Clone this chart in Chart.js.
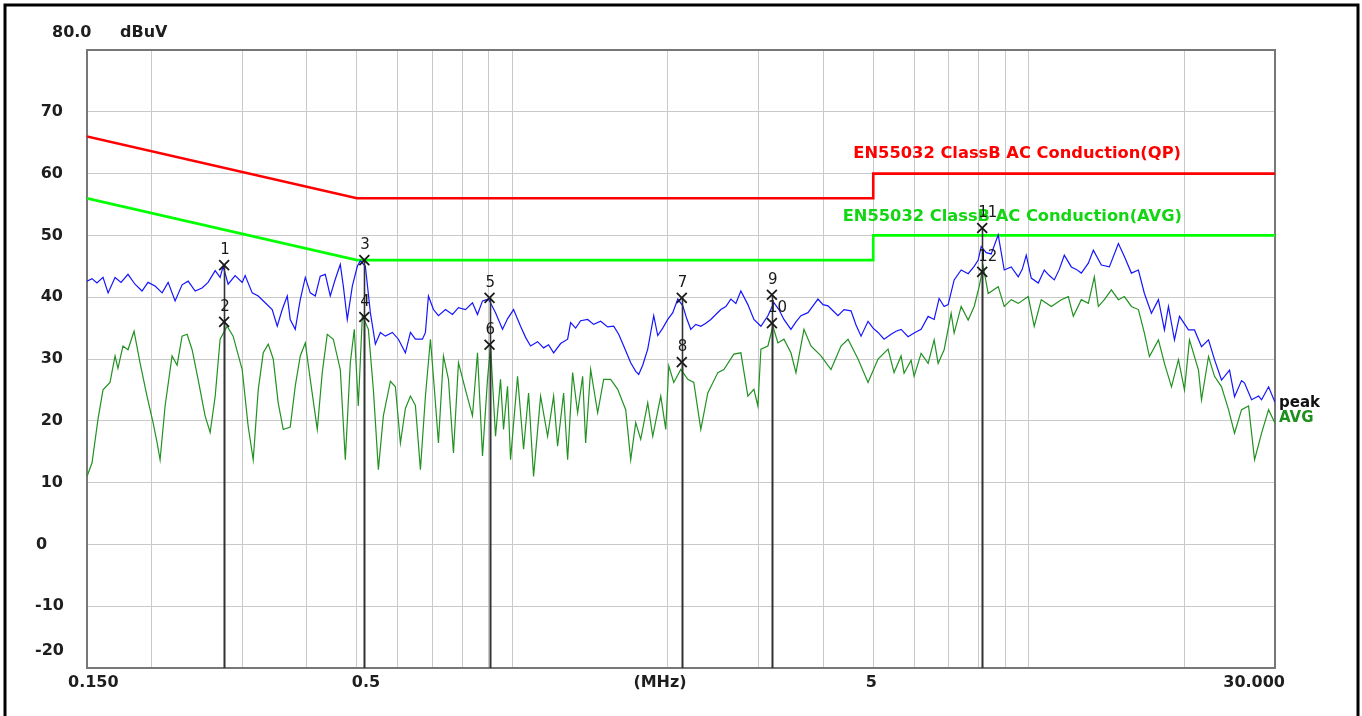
<!DOCTYPE html>
<html>
<head>
<meta charset="utf-8">
<script src="https://cdn.jsdelivr.net/npm/chart.js@4.4.1/dist/chart.umd.min.js"></script>
<style>
html,body{margin:0;padding:0;background:#fff;}
canvas{display:block;}
</style>
</head>
<body>
<canvas id="c" width="1362" height="716"></canvas>
<script>
// ---------- data ----------
const peakFreq = [
0.150,0.1534,0.1568,0.1611,0.1648,0.1700,0.1746,0.1801,0.1858,0.1917,
0.1969,0.2032,0.2097,0.2154,0.2222,0.2292,0.2355,0.2430,0.2506,0.2574,
0.2657,0.2716,0.2753,0.2815,0.2904,0.2997,0.3037,0.3134,0.3219,0.3321,
0.3426,0.3504,0.3583,0.3664,0.3713,0.3797,0.3883,0.3971,0.4060,0.4152,
0.4245,0.4341,0.4439,0.4539,0.4642,0.4705,0.4789,0.4898,0.5008,0.5076,
0.5191,0.5308,0.5428,0.5550,0.5675,0.5856,0.6015,0.6206,0.6346,0.6489,
0.6696,0.6786,0.6877,0.7033,0.7191,0.7420,0.7655,0.7863,0.8113,0.8370,
0.8559,0.8753,0.8990,0.9276,0.9570,0.9786,1.0053,1.0372,1.0606,1.0845,
1.1189,1.1494,1.1753,1.2019,1.2400,1.2794,1.2966,1.3259,1.3559,1.3989,
1.4369,1.4826,1.5297,1.5712,1.6067,1.6430,1.6951,1.7334,1.7567,1.7884,
1.8288,1.8785,1.9123,1.9556,1.9997,2.0449,2.0910,2.1383,2.1768,2.2160,
2.2660,2.3173,2.3696,2.4231,2.4778,2.5338,2.5910,2.6495,2.7093,2.7705,
2.8584,2.9362,3.0294,3.1256,3.2104,3.2829,3.3571,3.4637,3.5419,3.6219,
3.7369,3.8213,3.9075,3.9958,4.0860,4.1783,4.2726,4.3887,4.5281,4.6303,
4.7349,4.8852,4.9955,5.1082,5.2471,5.4137,5.5359,5.6610,5.8407,5.9993,
6.1899,6.3864,6.5598,6.7079,6.8594,6.9830,7.1727,7.4006,7.6355,7.8428,
7.9841,8.0920,8.2746,8.4615,8.7301,8.9673,9.2521,9.5458,9.7179,9.8931,
10.116,10.437,10.722,10.964,11.211,11.464,11.723,12.095,12.368,12.648,
13.049,13.344,13.829,14.332,14.920,15.325,15.812,16.314,16.757,17.289,
17.838,18.323,18.653,19.160,19.592,20.395,20.950,21.615,22.301,22.907,
23.635,24.494,25.047,25.843,26.191,27.024,27.882,28.258,29.155,30.0
];
const peakLevel = [
42.6,43.0,42.3,43.2,40.7,43.2,42.4,43.7,42.1,41.0,
42.4,41.8,40.7,42.4,39.4,42.0,42.6,41.0,41.5,42.4,
44.3,43.2,45.0,42.1,43.5,42.4,43.5,40.7,40.2,39.1,
38.0,35.3,38.0,40.2,36.4,34.8,39.6,43.2,40.7,40.2,
43.4,43.7,40.2,42.9,45.3,41.8,36.4,41.8,45.0,45.9,
45.0,37.5,32.4,34.3,33.7,34.3,33.2,31.0,34.3,33.2,
33.2,34.3,40.2,38.0,37.0,38.0,37.2,38.3,38.0,39.1,
37.2,39.4,39.7,37.5,34.8,36.5,38.0,35.3,33.5,32.1,
32.8,31.8,32.3,31.0,32.5,33.2,35.9,35.0,36.2,36.4,
35.6,36.1,35.2,35.3,34.0,32.1,29.4,28.0,27.5,29.0,
31.6,37.0,33.8,35.0,36.4,37.5,39.7,38.6,36.5,34.8,
35.6,35.3,35.8,36.4,37.2,38.0,38.5,39.7,39.0,41.0,
38.8,36.4,35.3,37.0,39.1,38.0,36.4,34.8,36.0,37.0,
37.5,38.6,39.7,38.8,38.6,37.8,37.0,38.0,37.8,35.5,
33.7,36.1,35.0,34.3,33.2,34.0,34.5,34.8,33.6,34.2,
34.8,36.9,36.4,39.8,38.5,38.8,42.8,44.4,43.8,45.0,
46.0,48.2,47.2,47.0,50.1,44.4,44.9,43.3,44.5,46.8,
43.1,42.3,44.4,43.5,42.8,44.5,46.8,44.9,44.5,43.9,
45.5,47.6,45.2,44.9,48.7,46.6,43.9,44.4,40.6,37.4,
39.6,34.7,38.5,33.1,36.9,34.7,34.7,32.0,33.1,29.9,
26.6,28.2,23.9,26.5,26.1,23.4,24.0,23.4,25.5,23.0
];
const avgFreq = [
0.150,0.1534,0.1575,0.1611,0.1662,0.1700,0.1722,0.1761,0.1801,0.1850,
0.1900,0.1960,0.2014,0.2050,0.2078,0.2125,0.2192,0.2242,0.2292,0.2344,
0.2397,0.2462,0.2540,0.2598,0.2657,0.2716,0.2802,0.2878,0.2997,0.3078,
0.3148,0.3219,0.3292,0.3366,0.3442,0.3519,0.3599,0.3713,0.3797,0.3883,
0.3971,0.4060,0.4189,0.4283,0.4380,0.4499,0.4642,0.4747,0.4854,0.4941,
0.5030,0.5122,0.5261,0.5380,0.5501,0.5625,0.5804,0.5935,0.6069,0.6206,
0.6346,0.6489,0.6636,0.6786,0.6939,0.7064,0.7191,0.7354,0.7520,0.7689,
0.7863,0.8113,0.8370,0.8559,0.8753,0.8950,0.9071,0.9276,0.9485,0.9613,
0.9786,0.9919,1.0234,1.0512,1.0749,1.0991,1.1341,1.1701,1.2019,1.2235,
1.2567,1.2794,1.3082,1.3378,1.3681,1.3865,1.4178,1.4628,1.5026,1.5503,
1.5995,1.6577,1.6951,1.7334,1.7725,1.8288,1.8701,1.9382,1.9819,2.0087,
2.0540,2.1193,2.1866,2.2459,2.3173,2.3908,2.5000,2.5680,2.6852,2.7705,
2.8584,2.9362,2.9890,3.0294,3.1256,3.1961,3.2682,3.3571,3.4637,3.5419,
3.6707,3.7873,3.9603,4.1412,4.3303,4.4677,4.6718,4.8852,5.1082,5.3416,
5.4867,5.6610,5.7373,5.9195,5.9993,6.1899,6.3864,6.5598,6.6780,6.8594,
7.0773,7.1727,7.4006,7.6355,7.8428,8.0199,8.1646,8.3488,8.7301,8.9673,
9.2521,9.5458,9.9818,10.252,10.579,11.062,11.567,11.934,12.203,12.648,
13.049,13.403,13.645,14.015,14.461,14.920,15.325,15.812,16.314,16.757,
17.135,17.838,18.323,18.905,19.505,20.034,20.487,21.327,21.615,22.301,
22.907,23.635,24.385,25.047,25.843,26.663,27.388,28.258,29.155,30.0
];
const avgLevel = [
11.0,13.2,20.2,25.0,26.2,30.5,28.5,32.1,31.5,34.5,
29.4,24.0,19.7,16.5,13.7,22.4,30.5,29.0,33.7,34.0,
31.5,26.7,20.8,18.1,24.0,33.2,35.3,33.7,28.3,19.1,
13.7,25.0,31.0,32.4,30.0,22.9,18.6,19.0,25.6,30.5,
32.6,26.7,18.6,27.8,34.0,33.2,28.3,13.7,29.4,34.8,
22.4,37.0,34.8,25.0,12.1,20.8,26.4,25.5,16.4,22.0,
24.0,22.5,12.1,24.0,33.2,25.0,16.4,30.5,26.7,14.8,
29.4,25.0,20.8,31.0,14.3,26.7,32.1,17.5,26.7,18.6,
25.6,13.7,27.2,15.4,24.5,11.0,24.0,17.5,24.0,15.9,
24.5,13.7,27.8,21.3,27.2,16.4,28.3,21.3,26.7,26.7,
25.1,21.8,13.7,19.7,17.0,22.9,17.5,24.0,18.6,28.9,
26.2,28.3,26.7,26.2,18.6,24.5,27.8,28.3,30.8,31.0,
24.0,25.1,22.4,31.6,32.1,35.3,32.6,33.2,31.0,27.8,
34.8,32.1,30.5,28.3,32.1,33.2,30.0,26.2,30.0,31.6,
27.8,30.5,27.7,29.8,27.2,30.9,29.3,33.1,29.3,31.5,
37.4,34.2,38.5,36.3,38.5,41.7,45.0,40.6,41.7,38.5,
39.6,39.0,40.1,35.3,39.6,38.5,39.6,40.1,36.9,39.6,
39.0,43.3,38.5,39.6,41.2,39.6,40.1,38.5,38.0,34.2,
30.4,33.1,29.3,25.5,29.9,25.0,33.1,28.2,23.4,30.4,
27.2,25.5,21.8,18.0,21.8,22.4,13.7,18.0,21.8,19.6
];
const qpLimitFreq = [0.15, 0.5, 5, 5, 30];
const qpLimitLevel = [66, 56, 56, 60, 60];
const avgLimitFreq = [0.15, 0.5, 5, 5, 30];
const avgLimitLevel = [56, 46, 46, 50, 50];

const markerNo = ['1','2','3','4','5','6','7','8','9','10','11','12'];
const markerFreq = [0.2765,0.2765,0.5167,0.5167,0.9031,0.9031,2.1288,2.1288,3.1819,3.1819,8.1282,8.1282];
const markerLevel = [45.2,36.0,46.0,36.8,39.9,32.3,39.9,29.5,40.4,35.8,51.2,44.1];

const xGridValues = [0.15,0.2,0.3,0.4,0.5,0.6,0.7,0.8,0.9,1,2,3,4,5,6,7,8,9,10,20,30];
const xTickValues = [0.15, 0.5, 5, 30];
const xTickLabels = ['0.150', '0.5', '5', '30.000'];
const yTickValues = [80,70,60,50,40,30,20,10,0,-10,-20];
const yTickLabels = ['80.0','70','60','50','40','30','20','10','0','-10','-20'];
const yUnit = 'dBuV';
const xUnit = '(MHz)';
const qpLimitName = 'EN55032 ClassB AC Conduction(QP)';
const avgLimitName = 'EN55032 ClassB AC Conduction(AVG)';
const peakName = 'peak';
const avgName = 'AVG';

// ---------- helpers ----------
const pts = (fx, fy) => fx.map((f, i) => ({x: f, y: fy[i]}));
const AX_FONT = 'bold 16px "DejaVu Sans"';
const TXT = '#1e1e1e';

const overlay = {
  id: 'overlay',
  beforeDatasetsDraw(chart) {
    const {ctx, chartArea: a} = chart;
    ctx.save();
    ctx.strokeStyle = '#777';
    ctx.lineWidth = 2;
    ctx.strokeRect(a.left, a.top, a.right - a.left, a.bottom - a.top);
    ctx.restore();
  },
  beforeDatasetDraw(chart, args) {
    if (args.index !== 0) return;
    const {ctx, chartArea: a, scales: {x, y}} = chart;
    ctx.save();
    ctx.strokeStyle = '#333';
    ctx.lineWidth = 1.6;
    markerFreq.forEach((f, i) => {
      const px = Math.round(x.getPixelForValue(f)) + 0.5;
      const py = y.getPixelForValue(markerLevel[i]);
      ctx.beginPath();
      ctx.moveTo(px, py);
      ctx.lineTo(px, a.bottom);
      ctx.stroke();
    });
    ctx.restore();
  },
  afterDraw(chart) {
    const {ctx, chartArea: a, scales: {x, y}} = chart;
    ctx.save();
    // y labels
    ctx.font = AX_FONT;
    ctx.fillStyle = TXT;
    ctx.textBaseline = 'middle';
    yTickValues.forEach((v, i) => {
      const lab = yTickLabels[i];
      let py = y.getPixelForValue(v);
      if (v === 80 || v === -20) py -= 17;
      if (lab === '80.0') { ctx.textAlign = 'left'; ctx.fillText(lab, 52, py); }
      else if (v <= 0) { ctx.textAlign = 'left'; ctx.fillText(lab, v === 0 ? 36 : 35, py); }
      else { ctx.textAlign = 'right'; ctx.fillText(lab, 63, py); }
    });
    ctx.textAlign = 'left';
    ctx.fillText(yUnit, 120, y.getPixelForValue(80) - 17);
    // x labels
    const ly = a.bottom + 15;
    xTickValues.forEach((v, i) => {
      const px = x.getPixelForValue(v);
      const lab = xTickLabels[i];
      if (i === 0) { ctx.textAlign = 'left'; ctx.fillText(lab, px - 19, ly); }
      else if (i === xTickValues.length - 1) { ctx.textAlign = 'right'; ctx.fillText(lab, px + 10, ly); }
      else { ctx.textAlign = 'center'; ctx.fillText(lab, px + (v === 0.5 ? 9 : -2), ly); }
    });
    ctx.textAlign = 'center';
    ctx.fillText(xUnit, 660, ly);
    // limit names
    ctx.textAlign = 'right';
    ctx.font = 'bold 16.3px "DejaVu Sans"';
    ctx.fillStyle = '#ff0000';
    ctx.fillText(qpLimitName, 1181, y.getPixelForValue(60) - 20);
    ctx.fillStyle = '#12d612';
    ctx.fillText(avgLimitName, 1182, y.getPixelForValue(50) - 19);
    // trace names
    ctx.font = 'bold 15px "DejaVu Sans"';
    ctx.textAlign = 'left';
    ctx.fillStyle = '#111';
    ctx.fillText(peakName, a.right + 4, 403);
    ctx.fillStyle = '#1f8f1f';
    ctx.fillText(avgName, a.right + 4, 418);
    // marker numbers
    ctx.font = '15px "DejaVu Sans"';
    ctx.fillStyle = '#1a1a1a';
    ctx.textAlign = 'left';
    markerFreq.forEach((f, i) => {
      const px = x.getPixelForValue(f);
      const py = y.getPixelForValue(markerLevel[i]);
      ctx.fillText(markerNo[i], px - 4, py - 15);
    });
    // outer frame
    ctx.strokeStyle = '#000';
    ctx.lineWidth = 3;
    ctx.strokeRect(5, 5, 1353, 730);
    ctx.restore();
  }
};

new Chart(document.getElementById('c'), {
  type: 'line',
  data: {
    datasets: [
      { label: 'markers', data: pts(markerFreq, markerLevel), showLine: false,
        pointStyle: 'crossRot', pointRadius: 7, pointBorderWidth: 1.8,
        pointBorderColor: '#1a1a1a', borderColor: '#1a1a1a' },
      { label: peakName, data: pts(peakFreq, peakLevel), borderColor: '#1414ff', borderWidth: 1.2, pointRadius: 0 },
      { label: avgName, data: pts(avgFreq, avgLevel), borderColor: '#219221', borderWidth: 1.2, pointRadius: 0 },
      { label: qpLimitName, data: pts(qpLimitFreq, qpLimitLevel), borderColor: '#ff0000', borderWidth: 2.6, pointRadius: 0 },
      { label: avgLimitName, data: pts(avgLimitFreq, avgLimitLevel), borderColor: '#00ff00', borderWidth: 2.6, pointRadius: 0 }
    ]
  },
  options: {
    responsive: false,
    animation: false,
    devicePixelRatio: 1,
    layout: { padding: { left: 87, top: 50, right: 87, bottom: 48 } },
    plugins: { legend: { display: false }, tooltip: { enabled: false } },
    elements: { line: { tension: 0 } },
    scales: {
      x: {
        type: 'logarithmic', min: 0.15, max: 30,
        afterBuildTicks(s) { s.ticks = xGridValues.map(v => ({ value: v })); },
        afterFit(s) { s.height = 0; },
        ticks: { display: false },
        grid: { color: '#c9c9c9', lineWidth: 1, drawTicks: false },
        border: { display: false }
      },
      y: {
        type: 'linear', min: -20, max: 80,
        afterBuildTicks(s) { s.ticks = yTickValues.map(v => ({ value: v })); },
        afterFit(s) { s.width = 0; },
        ticks: { display: false },
        grid: { color: '#c9c9c9', lineWidth: 1, drawTicks: false },
        border: { display: false }
      }
    }
  },
  plugins: [overlay]
});
</script>
</body>
</html>
